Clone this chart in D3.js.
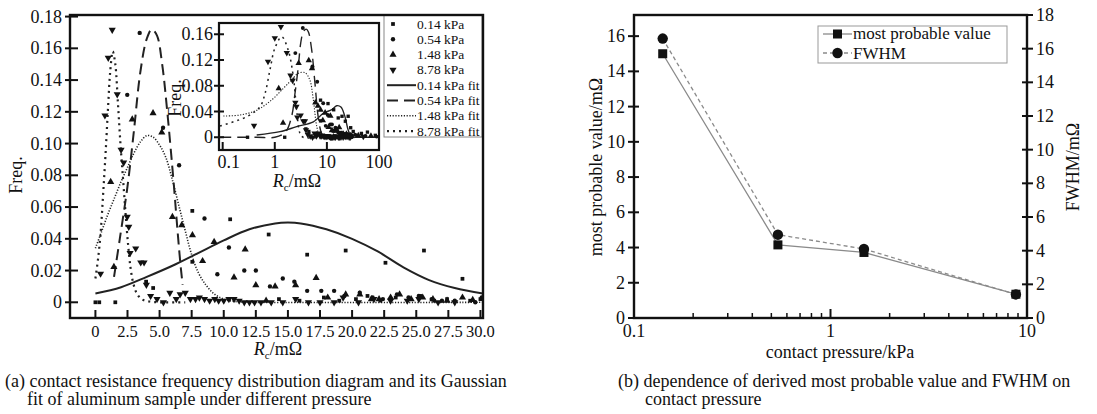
<!DOCTYPE html>
<html><head><meta charset="utf-8">
<script src="https://cdn.jsdelivr.net/npm/d3@7"></script>
<style>
body{margin:0;background:#fff}
svg{display:block}
svg text{font-family:'Liberation Serif','DejaVu Serif',serif;fill:#111}
</style>
</head><body>
<svg id="c" width="1097" height="414" font-family="Liberation Serif, DejaVu Serif, serif"></svg>
<script>
// ---------------- DATA ----------------
const xTicksA = [0,2.5,5,7.5,10,12.5,15,17.5,20,22.5,25,27.5,30];
const xTickLabelsA = ["0","2.5","5.0","7.5","10.0","12.5","15.0","17.5","20.0","22.5","25.0","27.5","30.0"];
const yTicksA = [0,0.02,0.04,0.06,0.08,0.10,0.12,0.14,0.16,0.18];
const yTickLabelsA = ["0","0.02","0.04","0.06","0.08","0.10","0.12","0.14","0.16","0.18"];
const insetXTicks = [0.1,1,10,100];
const insetXTickLabels = ["0.1","1","10","100"];
const insetYTicks = [0,0.04,0.08,0.12,0.16];
const insetYTickLabels = ["0","0.04","0.08","0.12","0.16"];
const seriesNames = ["0.14 kPa","0.54 kPa","1.48 kPa","8.78 kPa"];
const fitNames = ["0.14 kPa fit","0.54 kPa fit","1.48 kPa fit","8.78 kPa fit"];

// scatter: [Rc (mΩ), freq]
const pts014 = [[0,0],[0.3,0],[1.55,0],[3.95,0.013],[4.5,0.009],[7.55,0.0576],[7.55,0.0255],[10.5,0.0523],[13.5,0.0427],[16.5,0.030],[19.5,0.0326],[22.6,0.0249],[25.6,0.0326],[28.6,0.0148],
  [14.3,0.002],[15.9,0.001],[17.8,0.003],[19.0,0.001],[20.3,0.002],[21.2,0.004],[22.2,0.001],[23.4,0.003],[24.5,0.002],[25.3,0.004],[26.4,0.001],[27.4,0.002],[29.2,0.001],[30.0,0.002],
  [32,0.009],[46,0.006],[60,0.008],[85,0.003]];
const pts054 = [[2.48,0.1307],[3.45,0.1697],[5.27,0.110],[6.52,0.0863],[8.5,0.0528],[10.4,0.0345],[9.5,0.0177],[11.6,0.020],[12.5,0.020],[13.6,0.010],[14.6,0.015],[15.5,0.013],[16.5,0.0072],[17.6,0.0072],[18.6,0.0072],
  [19.4,0.004],[20.6,0.006],[21.6,0.003],[22.4,0.002],[23.5,0.005],[24.4,0.003],[25.2,0.004],[26.2,0.002],[27.0,0.001],[28.0,0.001],[29.6,0.0],[30.1,0.003],
  [35,0.004],[55,0.002],[90,0.001]];
const pts148 = [[1.19,0.0758],[1.44,0.0223],[2.87,0.1152],[4.49,0.1192],[5.17,0.107],[6.0,0.0538],[6.73,0.0486],[7.56,0.0423],[8.35,0.026],[9.25,0.038],[10.8,0.0157],[11.67,0.0333],[12.5,0.0108],[14.0,0.010],[15.6,0.0108],[17.2,0.0154],
  [13.3,0.001],[18.1,0.003],[19.5,0.005],[20.6,0.005],[21.5,0.002],[22.1,0.002],[23.0,0.003],[23.7,0.005],[24.6,0.002],[25.5,0.003],[26.3,0.002],[27.4,0.001],[28.6,0.003],[29.4,0.0015],
  [40,0.003],[70,0.002]];
const pts878 = [[0.4,0.018],[0.74,0.1177],[1.0,0.154],[1.31,0.1716],[1.7,0.131],[2.0,0.096],[2.2,0.088],[2.48,0.0538],[2.6,0.0475],[2.7,0.031],[3.14,0.0339],[3.53,0.0251],[3.79,0.0251],[3.97,0.011],
  [4.3,0.004],[4.8,0.002],[5.3,0.0],[5.8,0.006],[6.3,0.002],[6.6,0.005],[7.0,0.006],[7.4,0.002],[7.8,0.002],[8.1,0.003],[8.5,0.002],[8.9,0.001],[9.3,0.002],[9.6,0.001],[10.0,0.001],[10.4,0.002],[10.8,0.002],[11.2,0.001],[11.6,0.0],[12.0,0.0],[12.4,0.0],[12.9,0.0],[13.7,0.0],[14.6,0.0],[15.6,0.002],[16.6,0.0],[17.5,0.0],[18.6,0.0],[19.3,0.003],[20.5,0.0],[21.7,0.002],[23.0,0.001],[24.3,0.001],[25.2,0.002],[26.7,0.0],[28.0,0.0],
  [50,0.001]];

// fitted curves
const fit014 = [[0,0.0056],[2,0.0095],[4,0.016],[6,0.023],[8,0.031],[10,0.039],[12,0.046],[14,0.0497],[15,0.0502],[16,0.0497],[18,0.046],[20,0.040],[22,0.032],[24,0.022],[26,0.014],[28,0.009],[30.2,0.0055]];
const fit054 = [[1.45,0.016],[1.9,0.04],[2.5,0.073],[3.0,0.108],[3.5,0.145],[4.0,0.166],[4.4,0.172],[4.8,0.168],[5.2,0.150],[5.6,0.120],[6.1,0.075],[6.4,0.045],[6.65,0.022],[6.8,0.011]];
const fit148 = [[0,0.034],[0.5,0.045],[1.0,0.056],[1.5,0.066],[2.0,0.076],[2.5,0.085],[3.0,0.094],[3.5,0.101],[4.0,0.105],[4.5,0.104],[5.0,0.099],[5.5,0.091],[6.0,0.077],[6.5,0.061],[7.0,0.045],[7.5,0.030],[8.0,0.019],[8.6,0.011],[9.3,0.005],[10.2,0.0015],[11.2,0.0003],[12,0],[30.2,0]];
const fit878 = [[0,0.015],[0.2,0.027],[0.4,0.043],[0.6,0.068],[0.8,0.095],[1.0,0.125],[1.15,0.145],[1.35,0.158],[1.55,0.150],[1.75,0.126],[1.95,0.100],[2.15,0.078],[2.35,0.056],[2.55,0.036],[2.75,0.021],[2.95,0.012],[3.2,0.006],[3.6,0.002],[4.2,0.0005],[5,0],[7,0]];

// fitted curves (log axis)
const insetFit014 = [[0.45,0.0036],[1.26,0.0087],[2.63,0.0165],[5.5,0.024],[8.5,0.037],[12.4,0.043],[15.4,0.049],[18.6,0.047],[22.2,0.032],[25.7,0.011],[30,0.001],[40,0],[100,0]];
const insetFit054 = [[0.09,0],[0.45,0],[1.0,0],[1.6,0.008],[2.1,0.032],[2.44,0.068],[2.83,0.11],[3.14,0.146],[3.53,0.164],[4.0,0.168],[4.4,0.164],[5.1,0.136],[5.9,0.084],[6.8,0.032],[7.9,0.006],[9,0]];
const insetFit148 = [[0.103,0.033],[0.215,0.0346],[0.45,0.042],[0.87,0.058],[1.46,0.076],[2.1,0.089],[2.83,0.0995],[3.8,0.1003],[4.7,0.089],[5.5,0.058],[6.4,0.0165],[7.4,0.001],[10,0],[100,0]];
const insetFit878 = [[0.089,0.0176],[0.29,0.032],[0.52,0.0475],[0.65,0.068],[0.81,0.105],[1.0,0.138],[1.36,0.156],[1.8,0.136],[2.27,0.094],[2.63,0.042],[3.05,0.006],[3.5,0],[8,0]];

// panel (b)
const pressure = [0.14,0.54,1.48,8.78];
const mostProbable = [15.0,4.15,3.72,1.35];
const fwhm = [16.6,4.95,4.1,1.4];
const bLeftTicks = [0,2,4,6,8,10,12,14,16];
const bRightTicks = [0,2,4,6,8,10,12,14,16,18];
const bXTicks = [0.1,1,10];
const bXTickLabels = ["0.1","1","10"];
const bXMinor = [0.2,0.3,0.4,0.5,0.6,0.7,0.8,0.9,2,3,4,5,6,7,8,9];

// ---------------- DRAW ----------------
const svg = d3.select("#c");
svg.append("rect").attr("width",1097).attr("height",414).attr("fill","#fff");
const FS = 18;
const FONT = "Liberation Serif, DejaVu Serif, serif";

function txt(g, x, y, s, size, anchor){
  return g.append("text").attr("x",x).attr("y",y).attr("font-family",FONT)
    .attr("font-size",size).attr("text-anchor",anchor||"start").text(s);
}

// ===== Panel (a) main =====
const A = {l:70, r:483, t:15, b:318};
const xa = d3.scaleLinear().domain([-1.98,30.2]).range([A.l,A.r]);
const ya = d3.scaleLinear().domain([-0.0099,0.181]).range([A.b,A.t]);

svg.append("clipPath").attr("id","clipA").append("rect")
  .attr("x",A.l).attr("y",A.t).attr("width",A.r-A.l).attr("height",A.b-A.t);
const gA = svg.append("g").attr("clip-path","url(#clipA)");

const lineStyles = [
  {dash:null, w:2.0},
  {dash:"11,6", w:2.0},
  {dash:"1.2,1.6", w:1.6},
  {dash:"2,4", w:2.2}
];
function drawFits(g, fits, xs, ys, scaleW){
  fits.forEach((f,i)=>{
    const ln = d3.line().x(d=>xs(d[0])).y(d=>ys(d[1])).curve(d3.curveCatmullRom);
    g.append("path").attr("d",ln(f)).attr("fill","none").attr("stroke","#222")
      .attr("stroke-width",lineStyles[i].w*scaleW)
      .attr("stroke-dasharray",lineStyles[i].dash);
  });
}
drawFits(gA,[fit014,fit054,fit148,fit878],xa,ya,1);

const symTypes = [d3.symbolSquare, d3.symbolCircle, d3.symbolTriangle, d3.symbolTriangle];
const symSizes = [14,15,22,22];
function drawPts(g, sets, xs, ys, filt, k){
  sets.forEach((s,i)=>{
    const sym = d3.symbol().type(symTypes[i]).size(symSizes[i]*k);
    g.selectAll(null).data(s.filter(filt)).enter().append("path")
      .attr("d",sym)
      .attr("transform",d=>`translate(${xs(d[0])},${ys(d[1])})${i===3?" rotate(180)":""}`)
      .attr("fill","#111");
  });
}
drawPts(gA,[pts014,pts054,pts148,pts878],xa,ya,d=>true,1);

// main axes ticks
const gAx = svg.append("g");
xTicksA.forEach((t,i)=>{
  gAx.append("line").attr("x1",xa(t)).attr("x2",xa(t)).attr("y1",A.b).attr("y2",A.b-8)
    .attr("stroke","#111").attr("stroke-width",2);
  txt(gAx, xa(t), A.b+19, xTickLabelsA[i], 16.5, "middle");
});
yTicksA.forEach((t,i)=>{
  gAx.append("line").attr("x1",A.l-5).attr("x2",A.l+8).attr("y1",ya(t)).attr("y2",ya(t))
    .attr("stroke","#111").attr("stroke-width",2);
  txt(gAx, A.l-8, ya(t)+6, yTickLabelsA[i], FS, "end");
});
// titles
gAx.append("text").attr("transform",`translate(22,175) rotate(-90)`).attr("text-anchor","middle")
  .attr("font-family",FONT).attr("font-size",FS).text("Freq.");
const xt = gAx.append("text").attr("x",278).attr("y",355).attr("text-anchor","middle").attr("font-family",FONT).attr("font-size",FS);
xt.append("tspan").attr("font-style","italic").text("R");
xt.append("tspan").attr("font-size",11).attr("dy",4).text("c");
xt.append("tspan").attr("dy",-4).text("/mΩ");

// ===== Inset =====
const I = {l:219, r:379, t:23, b:150};
const xi = d3.scaleLog().domain([0.085,100]).range([I.l,I.r]);
const yi = d3.scaleLinear().domain([-0.0198,0.1775]).range([I.b,I.t]);
svg.append("rect").attr("x",I.l).attr("y",I.t).attr("width",I.r-I.l).attr("height",I.b-I.t).attr("fill","#fff");
svg.append("clipPath").attr("id","clipI").append("rect")
  .attr("x",I.l).attr("y",I.t).attr("width",I.r-I.l).attr("height",I.b-I.t);
const gI = svg.append("g").attr("clip-path","url(#clipI)");
drawFits(gI,[insetFit014,insetFit054,insetFit148,insetFit878],xi,yi,0.7);
drawPts(gI,[pts014,pts054,pts148,pts878],xi,yi,d=>d[0]>0,0.8);
svg.append("rect").attr("x",I.l).attr("y",I.t).attr("width",I.r-I.l).attr("height",I.b-I.t)
  .attr("fill","none").attr("stroke","#111").attr("stroke-width",2.2);
insetXTicks.forEach((t,i)=>{
  svg.append("line").attr("x1",xi(t)).attr("x2",xi(t)).attr("y1",I.b).attr("y2",I.b-8)
    .attr("stroke","#111").attr("stroke-width",2);
  txt(svg, xi(t)+(i===0?6:0), I.b+18, insetXTickLabels[i], FS, "middle");
});
insetYTicks.forEach((t,i)=>{
  svg.append("line").attr("x1",I.l-5).attr("x2",I.l+5).attr("y1",yi(t)).attr("y2",yi(t))
    .attr("stroke","#111").attr("stroke-width",2);
  txt(svg, I.l-6, yi(t)+6, insetYTickLabels[i], FS, "end");
});
svg.append("text").attr("transform",`translate(181,98) rotate(-90)`).attr("text-anchor","middle")
  .attr("font-family",FONT).attr("font-size",FS).text("Freq.");
const xti = svg.append("text").attr("x",297).attr("y",187).attr("text-anchor","middle").attr("font-family",FONT).attr("font-size",FS);
xti.append("tspan").attr("font-style","italic").text("R");
xti.append("tspan").attr("font-size",11).attr("dy",4).text("c");
xti.append("tspan").attr("dy",-4).text("/mΩ");

// ===== Legend (a) =====
const L = {l:384, r:482, t:15, b:137};
svg.append("rect").attr("x",L.l).attr("y",L.t).attr("width",L.r-L.l).attr("height",L.b-L.t)
  .attr("fill","#fff").attr("stroke","#888").attr("stroke-width",1);
const legNames = seriesNames.concat(fitNames);
legNames.forEach((n,i)=>{
  const y = 24 + i*15.3;
  if(i<4){
    const sym = d3.symbol().type(symTypes[i]).size(symSizes[i]);
    svg.append("path").attr("d",sym).attr("transform",`translate(393,${y})${i===3?" rotate(180)":""}`).attr("fill","#111");
  } else {
    const st = lineStyles[i-4];
    svg.append("line").attr("x1",387).attr("x2",416).attr("y1",y).attr("y2",y)
      .attr("stroke","#222").attr("stroke-width",st.w).attr("stroke-dasharray",st.dash);
  }
  txt(svg, 417, y+4.5, n, 13.5);
});

// main frame
svg.append("rect").attr("x",A.l).attr("y",A.t).attr("width",A.r-A.l).attr("height",A.b-A.t)
  .attr("fill","none").attr("stroke","#111").attr("stroke-width",2.4);

// caption (a)
txt(svg, 5, 387, "(a) contact resistance frequency distribution diagram and its Gaussian", FS);
txt(svg, 27, 405, "fit of aluminum sample under different pressure", FS);

// ===== Panel (b) =====
const B = {l:634, r:1027, t:15, b:318};
const xb = d3.scaleLog().domain([0.1,10]).range([B.l,B.r]);
const ybl = d3.scaleLinear().domain([0,17.2]).range([B.b,B.t]);
const ybr = d3.scaleLinear().domain([0,18]).range([B.b,B.t]);

const mpData = pressure.map((p,i)=>[p,mostProbable[i]]);
const fwData = pressure.map((p,i)=>[p,fwhm[i]]);
svg.append("path").attr("d",d3.line().x(d=>xb(d[0])).y(d=>ybl(d[1]))(mpData))
  .attr("fill","none").attr("stroke","#8a8a8a").attr("stroke-width",1.3);
svg.append("path").attr("d",d3.line().x(d=>xb(d[0])).y(d=>ybr(d[1]))(fwData))
  .attr("fill","none").attr("stroke","#8a8a8a").attr("stroke-width",1.3).attr("stroke-dasharray","4,3");
svg.selectAll(null).data(fwData).enter().append("circle")
  .attr("cx",d=>xb(d[0])).attr("cy",d=>ybr(d[1])).attr("r",5.2).attr("fill","#111");
svg.selectAll(null).data(mpData).enter().append("rect")
  .attr("x",d=>xb(d[0])-4.5).attr("y",d=>ybl(d[1])-4.5).attr("width",9).attr("height",9).attr("fill","#111");

svg.append("rect").attr("x",B.l).attr("y",B.t).attr("width",B.r-B.l).attr("height",B.b-B.t)
  .attr("fill","none").attr("stroke","#111").attr("stroke-width",2.4);
bLeftTicks.forEach(t=>{
  svg.append("line").attr("x1",B.l-6).attr("x2",B.l+5).attr("y1",ybl(t)).attr("y2",ybl(t))
    .attr("stroke","#111").attr("stroke-width",2);
  txt(svg, B.l-9, ybl(t)+6, t, FS, "end");
});
bRightTicks.forEach(t=>{
  svg.append("line").attr("x1",B.r-5).attr("x2",B.r+6).attr("y1",ybr(t)).attr("y2",ybr(t))
    .attr("stroke","#111").attr("stroke-width",2);
  txt(svg, B.r+9, ybr(t)+6, t, FS, "start");
});
bXTicks.forEach((t,i)=>{
  svg.append("line").attr("x1",xb(t)).attr("x2",xb(t)).attr("y1",B.b).attr("y2",B.b-9)
    .attr("stroke","#111").attr("stroke-width",2);
  txt(svg, xb(t), B.b+19, bXTickLabels[i], FS, "middle");
});
bXMinor.forEach(t=>{
  svg.append("line").attr("x1",xb(t)).attr("x2",xb(t)).attr("y1",B.b).attr("y2",B.b-5)
    .attr("stroke","#111").attr("stroke-width",1.5);
});
svg.append("text").attr("transform",`translate(602,167) rotate(-90)`).attr("text-anchor","middle")
  .attr("font-family",FONT).attr("font-size",FS).text("most probable value/mΩ");
svg.append("text").attr("transform",`translate(1079,167) rotate(-90)`).attr("text-anchor","middle")
  .attr("font-family",FONT).attr("font-size",FS).text("FWHM/mΩ");
txt(svg, 840, 358, "contact pressure/kPa", FS, "middle");

// legend (b)
svg.append("rect").attr("x",818).attr("y",26).attr("width",189).attr("height",37)
  .attr("fill","#fff").attr("stroke","#999").attr("stroke-width",1);
svg.append("line").attr("x1",823).attr("x2",852).attr("y1",34).attr("y2",34).attr("stroke","#8a8a8a").attr("stroke-width",1.3);
svg.append("rect").attr("x",833).attr("y",29.5).attr("width",9).attr("height",9).attr("fill","#111");
txt(svg, 853, 39, "most probable value", 17);
svg.append("line").attr("x1",823).attr("x2",852).attr("y1",53).attr("y2",53).attr("stroke","#8a8a8a").attr("stroke-width",1.3).attr("stroke-dasharray","4,3");
svg.append("circle").attr("cx",837.5).attr("cy",53).attr("r",5.2).attr("fill","#111");
txt(svg, 853, 58.5, "FWHM", 17);

// caption (b)
txt(svg, 618, 387, "(b) dependence of derived most probable value and FWHM on", FS);
txt(svg, 645, 405, "contact pressure", FS);
</script>
</body></html>
